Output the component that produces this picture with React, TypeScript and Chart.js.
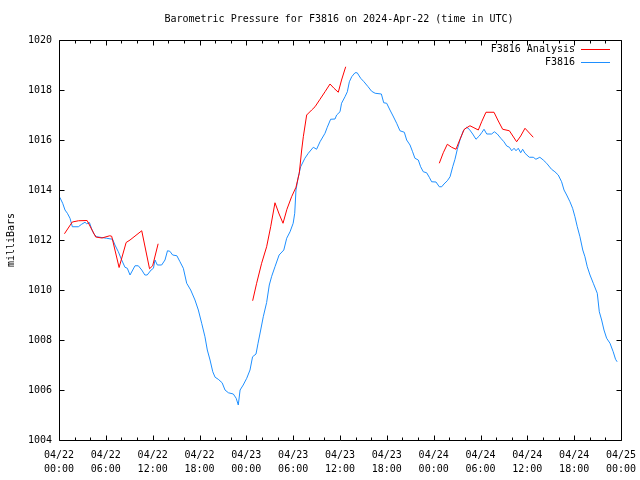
import React, { useEffect, useRef } from "react";
import { Chart, registerables } from "chart.js";

Chart.register(...registerables);

const TITLE = "Barometric Pressure for F3816 on 2024-Apr-22 (time in UTC)";
const Y_TITLE = "milliBars";
const SERIES_NAMES = ["F3816 Analysis", "F3816"];
const X_TICK_DATES = ["04/22", "04/22", "04/22", "04/22", "04/23", "04/23", "04/23", "04/23", "04/24", "04/24", "04/24", "04/24", "04/25"];
const X_TICK_TIMES = ["00:00", "06:00", "12:00", "18:00", "00:00", "06:00", "12:00", "18:00", "00:00", "06:00", "12:00", "18:00", "00:00"];

// hours since 04/22 00:00 UTC
const stationHours = [
  0.1, 0.47, 0.77, 1.07, 1.41, 1.71, 2.48, 2.9, 3.33, 3.54, 3.9, 4.18, 4.48, 4.83, 5.25, 6.1, 6.87, 7.17, 7.6, 8.03,
  8.45, 8.75, 9.1, 9.74, 10.16, 10.6, 11.0, 11.3, 11.8, 12.1, 12.3, 12.6, 13.15, 13.58, 13.9, 14.2, 14.56, 15.1, 15.5, 15.93,
  16.36, 16.87, 17.42, 17.85, 18.28, 18.7, 19.0, 19.35, 19.7, 20.0, 20.4, 20.9, 21.27, 21.7, 22.33, 22.7, 22.97, 23.2, 23.6, 24.05,
  24.47, 24.8, 25.24, 25.5, 25.84, 26.17, 26.6, 26.94, 27.25, 27.67, 28.2, 28.8, 29.17, 29.6, 30.0, 30.2, 30.36, 30.66, 30.96, 31.5,
  31.94, 32.58, 33.0, 33.44, 34.08, 34.37, 34.8, 35.36, 35.57, 36.0, 36.2, 36.64, 36.94, 37.2, 37.5, 37.92, 38.2, 38.65, 39.07, 39.6,
  40.05, 40.5, 41.3, 41.6, 41.98, 42.4, 42.8, 43.26, 43.68, 44.24, 44.54, 44.97, 45.3, 45.6, 46.03, 46.33, 46.67, 47.1, 47.44, 47.74,
  48.3, 48.72, 49.03, 49.32, 49.75, 50.1, 50.44, 50.73, 51.03, 51.37, 51.8, 52.23, 52.56, 53.0, 53.42, 53.84, 54.15, 54.45, 54.8, 55.43,
  55.77, 56.15, 56.6, 57.0, 57.36, 57.7, 58.0, 58.3, 58.55, 58.84, 59.15, 59.4, 59.7, 60.25, 60.76, 61.1, 61.6, 62.04, 62.47, 63.1,
  63.53, 63.96, 64.39, 64.7, 65.04, 65.46, 65.8, 66.1, 66.4, 66.74, 67.1, 67.38, 67.68, 68.03, 68.45, 68.96, 69.22, 69.52, 69.82, 70.16,
  70.59, 71.0, 71.3, 71.5,
];
const stationPressure = [
  1013.71, 1013.47, 1013.2, 1013.07, 1012.87, 1012.53, 1012.53, 1012.63, 1012.71, 1012.65, 1012.7, 1012.44, 1012.24, 1012.13, 1012.11, 1012.07, 1012.03, 1011.8, 1011.53, 1011.2,
  1010.91, 1010.87, 1010.6, 1010.97, 1010.97, 1010.8, 1010.6, 1010.6, 1010.8, 1010.87, 1011.2, 1011.0, 1011.0, 1011.2, 1011.57, 1011.55, 1011.4, 1011.37, 1011.13, 1010.87,
  1010.27, 1010.0, 1009.6, 1009.2, 1008.67, 1008.13, 1007.6, 1007.2, 1006.73, 1006.51, 1006.43, 1006.29, 1006.0, 1005.89, 1005.84, 1005.67, 1005.4, 1006.0, 1006.2, 1006.47,
  1006.8, 1007.33, 1007.44, 1007.87, 1008.4, 1008.93, 1009.5, 1010.2, 1010.55, 1010.93, 1011.4, 1011.6, 1012.07, 1012.33, 1012.67, 1013.07, 1014.0, 1014.53, 1014.93, 1015.27,
  1015.47, 1015.71, 1015.63, 1015.93, 1016.27, 1016.51, 1016.83, 1016.84, 1017.0, 1017.13, 1017.47, 1017.73, 1017.93, 1018.33, 1018.53, 1018.69, 1018.69, 1018.47, 1018.33, 1018.13,
  1017.95, 1017.87, 1017.84, 1017.49, 1017.47, 1017.2, 1016.96, 1016.67, 1016.37, 1016.31, 1016.0, 1015.8, 1015.53, 1015.27, 1015.2, 1014.93, 1014.73, 1014.69, 1014.51, 1014.33,
  1014.32, 1014.13, 1014.13, 1014.24, 1014.37, 1014.53, 1014.93, 1015.23, 1015.63, 1016.0, 1016.37, 1016.51, 1016.43, 1016.24, 1016.03, 1016.16, 1016.29, 1016.43, 1016.24, 1016.24,
  1016.33, 1016.24, 1016.07, 1015.93, 1015.76, 1015.71, 1015.57, 1015.67, 1015.57, 1015.67, 1015.49, 1015.63, 1015.47, 1015.31, 1015.31, 1015.23, 1015.31, 1015.2, 1015.07, 1014.83,
  1014.73, 1014.6, 1014.33, 1014.0, 1013.8, 1013.53, 1013.27, 1012.93, 1012.53, 1012.13, 1011.6, 1011.33, 1010.93, 1010.6, 1010.27, 1009.87, 1009.13, 1008.8, 1008.4, 1008.07,
  1007.87, 1007.53, 1007.23, 1007.13,
];

// analysis series, null marks a gap
const analysisHours = [
  0.7, 1.7, 2.5, 3.6, 4.7, 5.5, 6.5, 6.75, 7.7, 8.6, 9.1, 10.6, 11.6, 12.0, 12.7,
  18.0,
  24.81, 25.32, 25.96, 26.6, 27.12, 27.67, 28.2, 28.7, 29.2, 29.8, 30.36, 30.78, 31.09, 31.3, 31.73, 32.37, 32.8, 33.44, 34.08, 34.72, 35.23, 35.78, 36.2, 36.73,
  42.0,
  48.72, 49.23, 49.75, 50.3, 50.86, 51.37, 51.92, 52.65, 53.16, 53.72, 54.15, 54.7, 55.73, 56.28, 56.84, 57.7, 58.63, 59.15, 59.7, 60.76,
];
const analysisPressure = [
  1012.25, 1012.72, 1012.77, 1012.78, 1012.12, 1012.08, 1012.17, 1012.15, 1010.9, 1011.9, 1012.0, 1012.37, 1010.85, 1010.97, 1011.85,
  null,
  1009.57, 1010.27, 1011.07, 1011.73, 1012.53, 1013.49, 1013.04, 1012.67, 1013.23, 1013.73, 1014.11, 1014.67, 1015.6, 1016.13, 1017.0, 1017.2, 1017.33, 1017.63, 1017.93, 1018.24, 1018.07, 1017.91, 1018.4, 1018.93,
  null,
  1015.07, 1015.49, 1015.83, 1015.71, 1015.63, 1016.03, 1016.43, 1016.57, 1016.49, 1016.4, 1016.73, 1017.11, 1017.11, 1016.76, 1016.43, 1016.37, 1015.93, 1016.16, 1016.47, 1016.11,
];

const RED = "#ff0000";
const BLUE = "#1e8fff";
const FONT = '"DejaVu Sans Mono", monospace';

const gnuplotFrame = {
  id: "gnuplotFrame",
  afterDraw(chart: any) {
    const { ctx, chartArea, scales } = chart;
    const { left, right, top, bottom } = chartArea;
    const xs = scales.x;
    const ys = scales.y;
    ctx.save();
    ctx.strokeStyle = "#000";
    ctx.lineWidth = 1;
    const L = Math.round(left) + 0.5;
    const R = Math.round(right) + 0.5;
    const T = Math.round(top) + 0.5;
    const B = Math.round(bottom) + 0.5;
    ctx.beginPath();
    ctx.rect(L, T, R - L, B - T);
    ctx.stroke();
    ctx.beginPath();
    for (let h = 0; h <= 72; h += 2) {
      const px = Math.round(xs.getPixelForValue(h)) + 0.5;
      const len = h % 6 === 0 ? 5 : 3;
      ctx.moveTo(px, B);
      ctx.lineTo(px, B - len);
      ctx.moveTo(px, T);
      ctx.lineTo(px, T + len);
    }
    for (let p = 1004; p <= 1020; p += 2) {
      const py = Math.round(ys.getPixelForValue(p)) + 0.5;
      ctx.moveTo(L, py);
      ctx.lineTo(L + 5, py);
      ctx.moveTo(R, py);
      ctx.lineTo(R - 5, py);
    }
    ctx.stroke();

    ctx.fillStyle = "#000";
    ctx.font = "10px " + FONT;
    ctx.textBaseline = "middle";
    ctx.textAlign = "center";
    ctx.fillText(TITLE, 339, 19);

    ctx.textAlign = "right";
    const colors = [RED, BLUE];
    const rows = [49, 62];
    SERIES_NAMES.forEach((name, i) => {
      ctx.fillStyle = "#000";
      ctx.fillText(name, 575, rows[i]);
      ctx.strokeStyle = colors[i];
      ctx.beginPath();
      ctx.moveTo(581, rows[i] + 0.5);
      ctx.lineTo(610, rows[i] + 0.5);
      ctx.stroke();
    });

    ctx.save();
    ctx.fillStyle = "#000";
    ctx.translate(11, 240);
    ctx.rotate(-Math.PI / 2);
    ctx.textAlign = "center";
    ctx.fillText(Y_TITLE, 0, 0);
    ctx.restore();
    ctx.restore();
  },
};

export default function App() {
  const ref = useRef<HTMLCanvasElement | null>(null);
  useEffect(() => {
    if (!ref.current) return;
    const station = stationHours.map((h, i) => ({ x: h, y: stationPressure[i] }));
    const analysis = analysisHours.map((h, i) => ({ x: h, y: analysisPressure[i] }));
    const chart = new Chart(ref.current, {
      type: "line",
      data: {
        datasets: [
          {
            label: SERIES_NAMES[0],
            data: analysis as any,
            borderColor: RED,
            borderWidth: 1,
            pointRadius: 0,
            tension: 0,
            spanGaps: false,
          },
          {
            label: SERIES_NAMES[1],
            data: station as any,
            borderColor: BLUE,
            borderWidth: 1,
            pointRadius: 0,
            tension: 0,
          },
        ],
      },
      options: {
        animation: false,
        responsive: false,
        devicePixelRatio: 1,
        layout: { padding: { left: 0, top: 40, right: 19, bottom: 0 } },
        plugins: {
          legend: { display: false },
          title: { display: false },
          tooltip: { enabled: false },
        },
        scales: {
          x: {
            type: "linear",
            min: 0,
            max: 72,
            grid: { display: false, drawTicks: false },
            border: { display: false },
            ticks: {
              stepSize: 6,
              autoSkip: false,
              maxRotation: 0,
              padding: 9,
              color: "#000",
              font: { family: FONT, size: 10, lineHeight: 1.35 },
              callback: (v: any) => {
                const i = Math.round(Number(v) / 6);
                return [X_TICK_DATES[i], X_TICK_TIMES[i]];
              },
            },
            afterFit: (s: any) => {
              s.height = 40;
              s.paddingLeft = 0;
              s.paddingRight = 0;
            },
          },
          y: {
            min: 1004,
            max: 1020,
            grid: { display: false, drawTicks: false },
            border: { display: false },
            ticks: {
              stepSize: 2,
              padding: 7,
              color: "#000",
              font: { family: FONT, size: 10 },
              callback: (v: any) => String(v),
            },
            afterFit: (s: any) => {
              s.width = 59;
              s.paddingTop = 0;
              s.paddingBottom = 0;
            },
          },
        },
      },
      plugins: [gnuplotFrame],
    });
    return () => chart.destroy();
  }, []);
  return (
    <div style={{ position: "absolute", left: 0, top: 0, width: 640, height: 480, background: "#fff" }}>
      <canvas ref={ref} width={640} height={480} />
    </div>
  );
}
